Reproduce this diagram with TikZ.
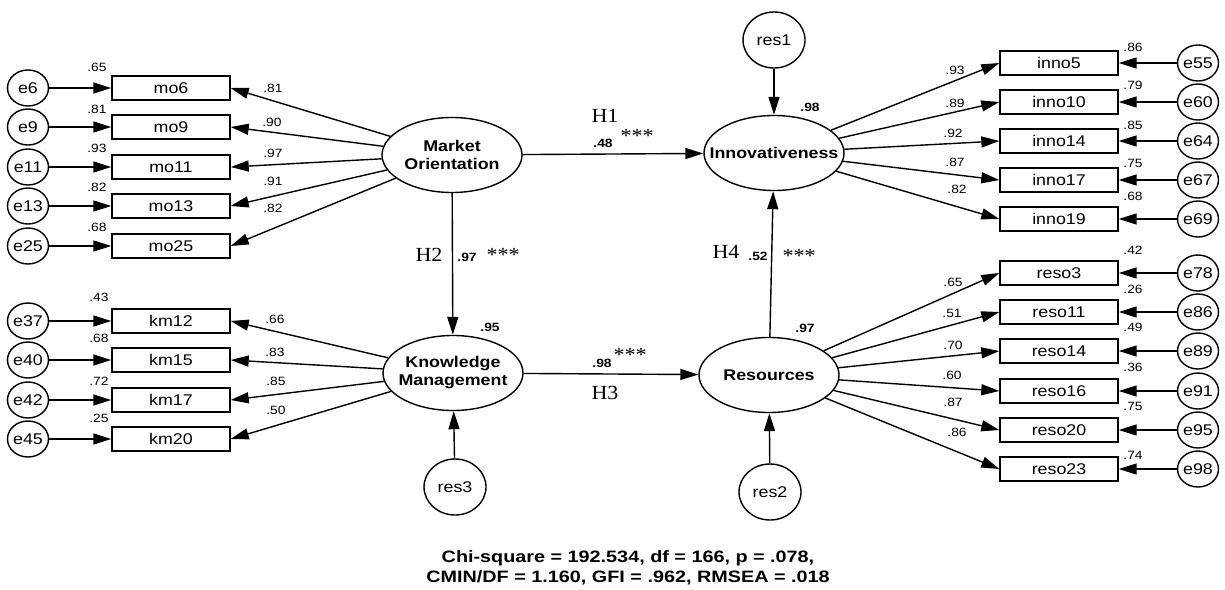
\documentclass[tikz,border=0pt]{standalone}
\usepackage{fontspec}
\setmainfont{Liberation Sans}[FakeStretch=1.15]
\newfontfamily\serifF{Liberation Serif}[FakeStretch=1.1]
\newfontfamily\wideF{Liberation Sans}[FakeStretch=1.2]
\usetikzlibrary{arrows.meta,shapes.geometric}
\begin{document}
\begin{tikzpicture}[x=1pt,y=-1pt,
 lat/.style={draw,line width=1.4pt,ellipse,minimum width=140pt,minimum height=75pt,inner sep=-25pt,font=\fontsize{15.5}{18}\selectfont\bfseries,align=center},
 ind/.style={draw,line width=1.4pt,rectangle,minimum width=118pt,minimum height=24pt,inner sep=0pt,font=\fontsize{15.5}{17}\selectfont},
 err/.style={draw,line width=1.4pt,ellipse,minimum width=41pt,minimum height=36pt,inner sep=-10pt,font=\fontsize{15.5}{17}\selectfont},
 resid/.style={draw,line width=1.4pt,ellipse,minimum width=62pt,minimum height=56pt,inner sep=-10pt,font=\fontsize{15.5}{17}\selectfont},
 arr/.style={line width=1.4pt,-{Triangle[length=18pt,width=11pt]}},
 num/.style={font=\fontsize{12}{13}\selectfont,inner sep=0pt},
 bnum/.style={font=\fontsize{12}{13}\selectfont\bfseries,inner sep=0pt},
 hyp/.style={font=\serifF\fontsize{20}{22}\selectfont,inner sep=0pt},
]
\useasboundingbox (0,0) rectangle (1225,589);

% latent variables
\node[lat] (mo) at (452,155) {Market\\Orientation};
\node[lat] (inno) at (774,153) {Innovativeness};
\node[lat] (km) at (453,373) {Knowledge\\Management};
\node[lat] (reso) at (769,375) {Resources};

% residual circles
\node[resid] (res1) at (774,40) {res1};
\node[resid] (res3) at (455,487) {res3};
\node[resid] (res2) at (770,492) {res2};

% market orientation indicators
\foreach \n/\y/\e/\r/\ry/\l/\lx/\ly in {mo6/88/e6/.65/67/.81/273/88, mo9/127/e9/.81/109/.90/272/122, mo11/167/e11/.93/148/.97/273/153, mo13/206/e13/.82/187/.91/273/181, mo25/246/e25/.68/227/.82/273/208}{
  \node[ind] (\n) at (171,\y) {\n};
  \node[err] (\e) at (28,\y) {\e};
  \draw[arr] (\e) -- (\n);
  \draw[arr] (mo) -- (\n.east);
  \node[num] (r\n) at (97,\ry) {\r};
  \node[num] (l\n) at (\lx,\ly) {\l};
}

% knowledge management indicators
\foreach \n/\y/\e/\r/\ry/\l/\lx/\ly in {km12/321/e37/.43/297/.66/275/319, km15/360/e40/.68/338/.83/275/352, km17/400/e42/.72/381/.85/276/381, km20/439/e45/.25/418/.50/276/410}{
  \node[ind] (\n) at (171,\y) {\n};
  \node[err] (\e) at (28,\y) {\e};
  \draw[arr] (\e) -- (\n);
  \draw[arr] (km) -- (\n.east);
  \node[num] (r\n) at (99,\ry) {\r};
  \node[num] (l\n) at (\lx,\ly) {\l};
}

% innovativeness indicators
\foreach \n/\y/\e/\r/\ry/\l/\lx/\ly in {inno5/63/e55/.86/47/.93/955/70, inno10/102/e60/.79/85/.89/955/103, inno14/141/e64/.85/125/.92/953/133, inno17/180/e67/.75/163/.87/955/162, inno19/219/e69/.68/196/.82/957/189}{
  \node[ind] (\n) at (1059,\y) {\n};
  \node[err] (\e) at (1198,\y) {\e};
  \draw[arr] (\e) -- (\n);
  \draw[arr] (inno) -- (\n.west);
  \node[num] (r\n) at (1133,\ry) {\r};
  \node[num] (l\n) at (\lx,\ly) {\l};
}

% resources indicators
\foreach \n/\y/\e/\r/\ry/\l/\lx/\ly in {reso3/273/e78/.42/250/.65/953/282, reso11/312/e86/.26/289/.51/952/313, reso14/351/e89/.49/327/.70/953/345, reso16/391/e91/.36/367/.60/952/375, reso20/430/e95/.75/406/.87/953/402, reso23/469/e98/.74/455/.86/957/432}{
  \node[ind] (\n) at (1059,\y) {\n};
  \node[err] (\e) at (1198,\y) {\e};
  \draw[arr] (\e) -- (\n);
  \draw[arr] (reso) -- (\n.west);
  \node[num] (r\n) at (1133,\ry) {\r};
  \node[num] (l\n) at (\lx,\ly) {\l};
}

% structural paths
\draw[arr] (mo) -- (inno);
\draw[arr] (mo) -- (km);
\draw[arr] (km) -- (reso);
\draw[arr] (reso) -- (inno);
\draw[arr] (res1) -- (inno);
\draw[arr] (res3) -- (km);
\draw[arr] (res2) -- (reso);

% path labels
\node[hyp] (h1) at (605,116) {H1};
\node[bnum] (b48) at (603,143) {.48};
\node[hyp] (s1) at (637,136) {***};
\node[hyp] (h2) at (429,255) {H2};
\node[bnum] (b97) at (467,257) {.97};
\node[hyp] (s2) at (503,255) {***};
\node[bnum] (r95) at (490,327) {.95};
\node[bnum] (b98) at (602,363) {.98};
\node[hyp] (s3) at (630,355) {***};
\node[hyp] (h3) at (605,393) {H3};
\node[hyp] (h4) at (726,252) {H4};
\node[bnum] (b52) at (758,256) {.52};
\node[hyp] (s4) at (799,256) {***};
\node[bnum] (r97) at (805,328) {.97};
\node[bnum] (r98) at (810,107) {.98};

% fit statistics
\node[font=\wideF\fontsize{16.5}{20}\selectfont\bfseries,align=center] (fit) at (628,568) {Chi-square = 192.534, df = 166, p = .078,\\CMIN/DF = 1.160, GFI = .962, RMSEA = .018};
\end{tikzpicture}
\end{document}
